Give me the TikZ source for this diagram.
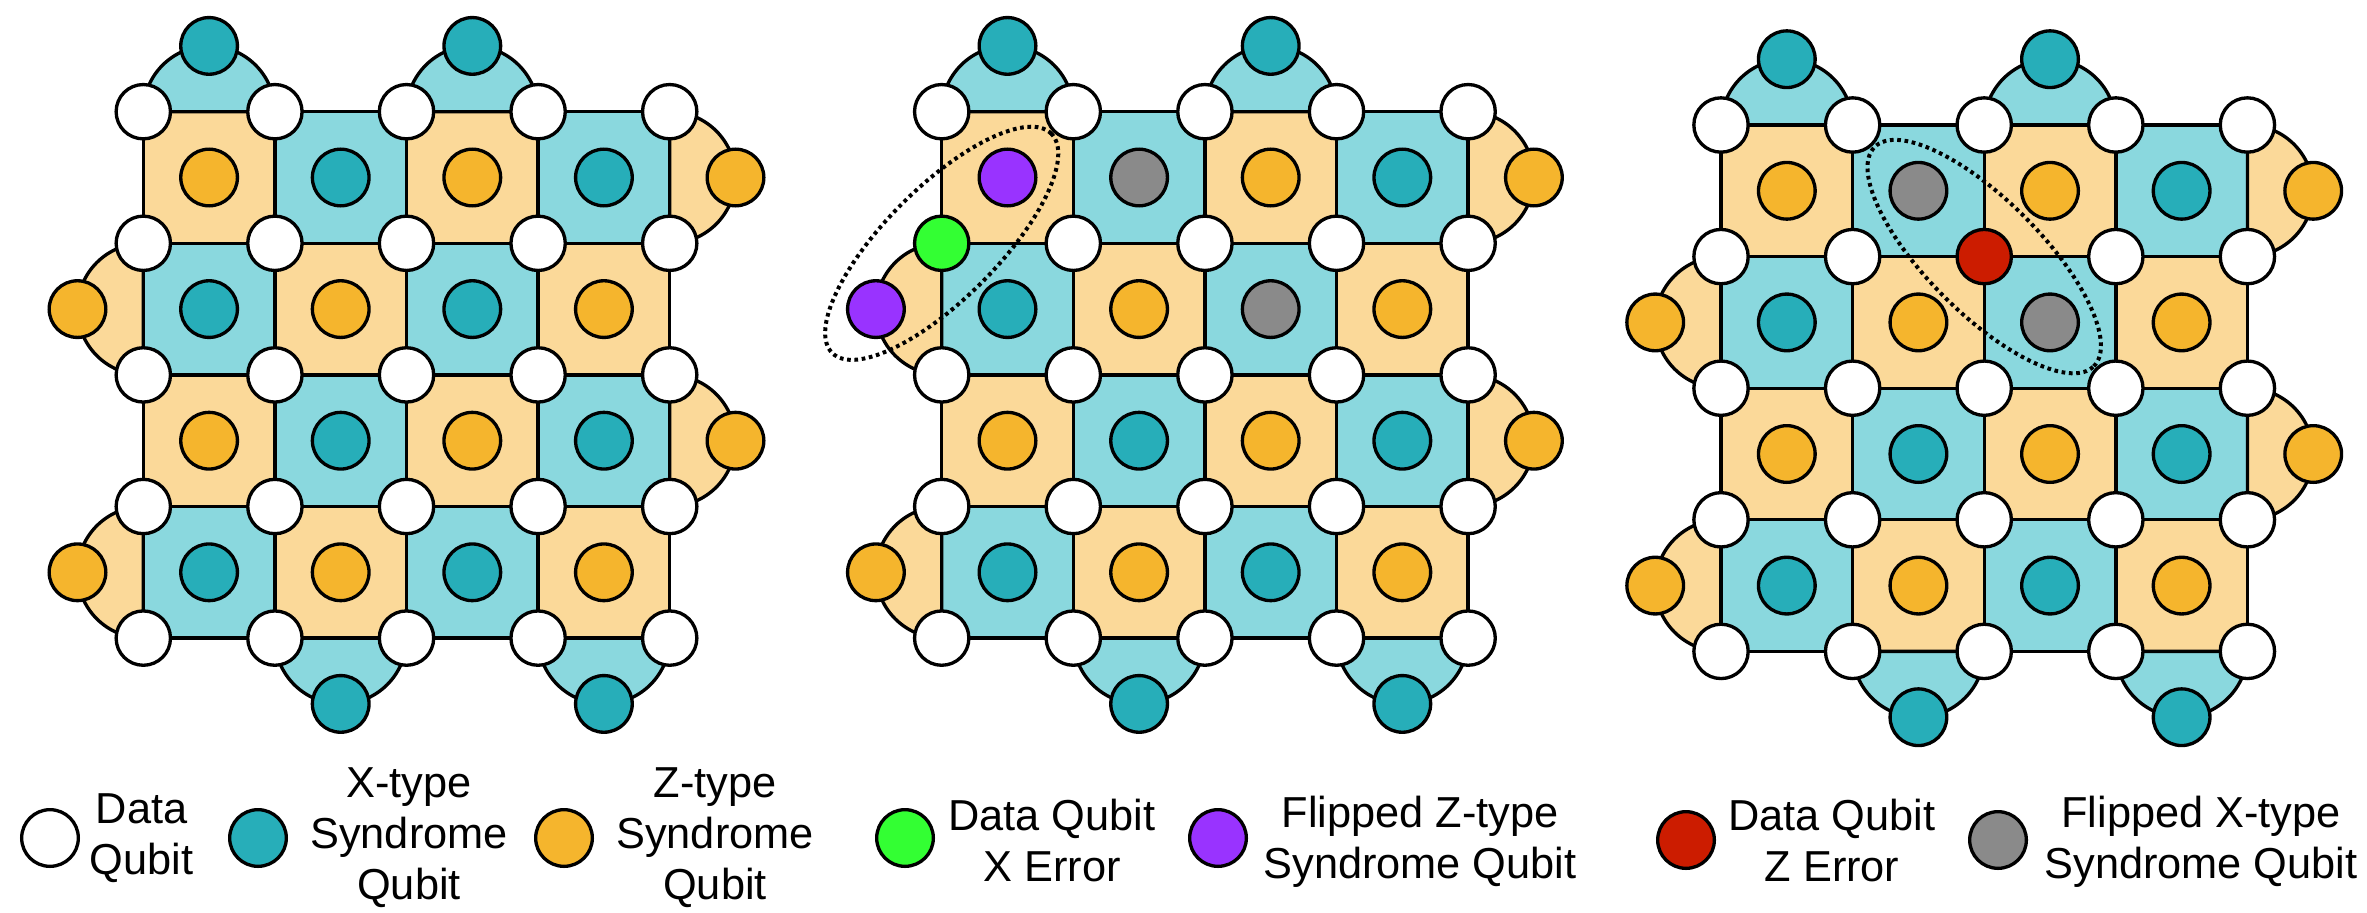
\documentclass[tikz,border=0pt]{standalone}
\usepackage{fontspec}
\setmainfont{Liberation Sans}
\usetikzlibrary{calc}
\definecolor{tealL}{RGB}{138,216,222}
\definecolor{tealD}{RGB}{39,174,185}
\definecolor{orgL}{RGB}{251,217,153}
\definecolor{orgD}{RGB}{245,181,45}
\definecolor{flipG}{RGB}{138,138,138}
\definecolor{flipP}{RGB}{153,51,255}
\definecolor{errG}{RGB}{51,255,51}
\definecolor{errR}{RGB}{204,28,0}
\tikzset{
  edge/.style={draw=black, line width=1pt},
  dataq/.style={circle, draw=black, line width=1pt, minimum size=16.3pt, inner sep=0pt},
  synd/.style={circle, draw=black, line width=1pt, minimum size=17pt, inner sep=0pt},
  lgtext/.style={align=center, inner sep=0pt, font=\fontsize{13}{15.3}\selectfont},
  dotring/.style={draw=black, line width=1.2pt, dash pattern=on 1.1pt off 1.1pt}
}
\newcommand\setcol[2]{\expandafter\def\csname col#1\endcsname{#2}}
\newcommand\getcol[2]{\ifcsname col#1\endcsname\edef\cc{\csname col#1\endcsname}\else\def\cc{#2}\fi}
\newcommand\lattice[3]{%
  \foreach \i in {0,...,4}{\foreach \j in {0,...,4}{%
    \coordinate (#1d\i\j) at ({#2+\i*131.6},{#3+\j*131.6});}}%
  \foreach \i in {0,...,3}{\foreach \j in {0,...,3}{%
    \pgfmathtruncatemacro\k{mod(\i+\j,2)}%
    \pgfmathtruncatemacro\ii{\i+1}\pgfmathtruncatemacro\jj{\j+1}%
    \ifnum\k=0\relax\def\cc{orgL}\else\def\cc{tealL}\fi
    \fill[\cc] (#1d\i\j) rectangle (#1d\ii\jj);}}%
  \foreach \c in {0,2}{\filldraw[edge,fill=tealL] (#1d\c0) arc[start angle=180,end angle=0,radius=19.74pt] -- cycle;}%
  \foreach \c in {1,3}{\filldraw[edge,fill=tealL] (#1d\c4) arc[start angle=180,end angle=360,radius=19.74pt] -- cycle;}%
  \foreach \r in {0,2}{\filldraw[edge,fill=orgL] (#1d4\r) arc[start angle=90,end angle=-90,radius=19.74pt] -- cycle;}%
  \foreach \r in {1,3}{\filldraw[edge,fill=orgL] (#1d0\r) arc[start angle=90,end angle=270,radius=19.74pt] -- cycle;}%
  \foreach \j in {0,...,4}{\draw[edge] (#1d0\j) -- (#1d4\j); \draw[edge] (#1d\j0) -- (#1d\j4);}%
  \foreach \i in {0,...,3}{\foreach \j in {0,...,3}{%
    \pgfmathtruncatemacro\k{mod(\i+\j,2)}%
    \ifnum\k=0\relax\getcol{#1s\i\j}{orgD}\else\getcol{#1s\i\j}{tealD}\fi
    \node[synd,fill=\cc] (#1s\i\j) at ({#2+(\i+0.5)*131.6},{#3+(\j+0.5)*131.6}) {};}}%
  \foreach \c in {0,2}{\getcol{#1t\c}{tealD}\node[synd,fill=\cc] (#1t\c) at ({#2+(\c+0.5)*131.6},{#3-65.8}) {};}%
  \foreach \c in {1,3}{\getcol{#1b\c}{tealD}\node[synd,fill=\cc] (#1b\c) at ({#2+(\c+0.5)*131.6},{#3+4*131.6+65.8}) {};}%
  \foreach \r in {0,2}{\getcol{#1r\r}{orgD}\node[synd,fill=\cc] (#1r\r) at ({#2+4*131.6+65.8},{#3+(\r+0.5)*131.6}) {};}%
  \foreach \r in {1,3}{\getcol{#1l\r}{orgD}\node[synd,fill=\cc] (#1l\r) at ({#2-65.8},{#3+(\r+0.5)*131.6}) {};}%
  \foreach \i in {0,...,4}{\foreach \j in {0,...,4}{%
    \getcol{#1d\i\j}{white}%
    \node[dataq,fill=\cc] (#1q\i\j) at (#1d\i\j) {};}}%
}
\setcol{ps00}{flipP}
\setcol{ps10}{flipG}
\setcol{ps21}{flipG}
\setcol{pd01}{errG}
\setcol{pl1}{flipP}
\setcol{rs10}{flipG}
\setcol{rs21}{flipG}
\setcol{rd21}{errR}
\begin{document}
\begin{tikzpicture}[x=0.3pt,y=-0.3pt]
\useasboundingbox (0,0) rectangle (2367,912);
\lattice{o}{143.3}{111.7}
\lattice{p}{941.7}{111.7}
\lattice{r}{1721}{125}
\draw[dotring, rotate around={45:(pd01)}] (pd01) ellipse [x radius=46.5pt, y radius=16.8pt];
\draw[dotring, rotate around={-45:(rd21)}] (rd21) ellipse [x radius=46.5pt, y radius=17pt];
% legend
\node[synd,fill=white] (k1) at (50,838) {};
\node[lgtext] (t1) at (141.5,838) {Data\\Qubit};
\node[synd,fill=tealD] (k2) at (258,838) {};
\node[lgtext] (t2) at (409,838) {X-type\\Syndrome\\Qubit};
\node[synd,fill=orgD] (k3) at (564,838) {};
\node[lgtext] (t3) at (715,838) {Z-type\\Syndrome\\Qubit};
\node[synd,fill=errG] (k4) at (905,838) {};
\node[lgtext] (t4) at (1052,840) {Data Qubit\\X Error};
\node[synd,fill=flipP] (k5) at (1218,838) {};
\node[lgtext] (t5) at (1420,842) {Flipped Z-type\\Syndrome Qubit};
\node[synd,fill=errR] (k6) at (1686,840) {};
\node[lgtext] (t6) at (1832,840) {Data Qubit\\Z Error};
\node[synd,fill=flipG] (k7) at (1998,840) {};
\node[lgtext] (t7) at (2201,842) {Flipped X-type\\Syndrome Qubit};
\end{tikzpicture}
\end{document}
